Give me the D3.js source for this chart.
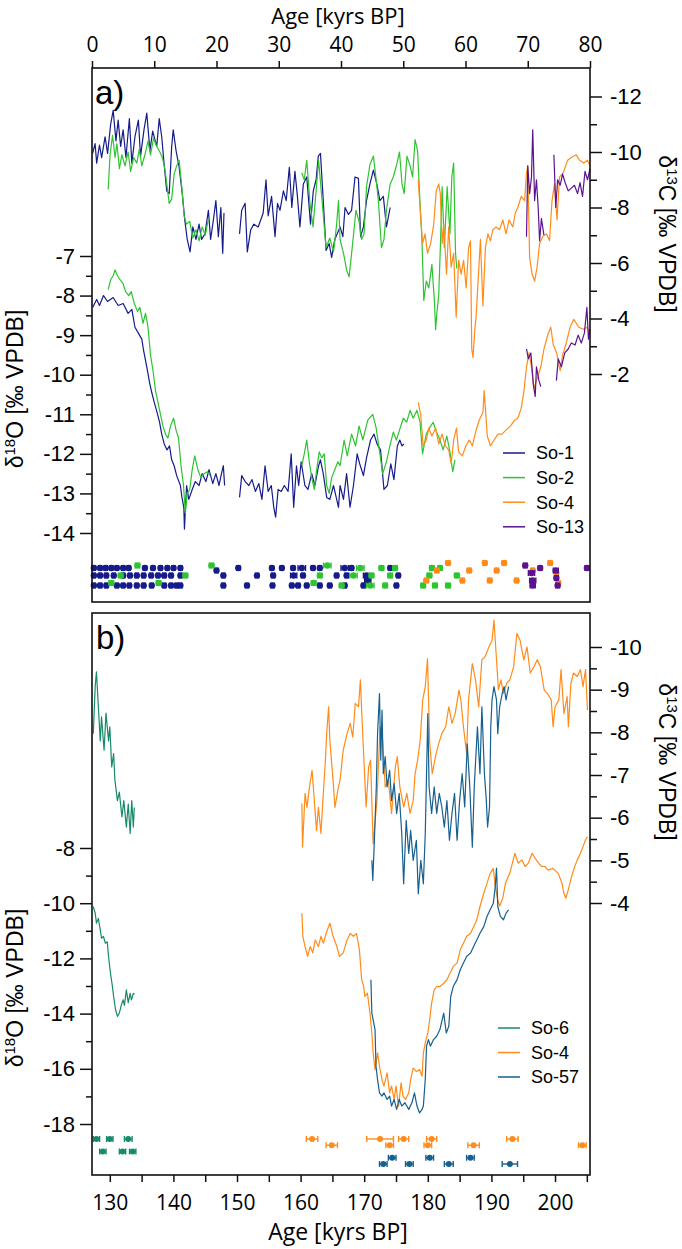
<!DOCTYPE html>
<html>
<head>
<meta charset="utf-8">
<script src="https://cdn.jsdelivr.net/npm/d3@7"></script>
<style>
body { margin: 0; background: #fff; }
</style>
</head>
<body>
<div id="chart"></div>
<script>
var width = 682, height = 1249;

// ---- ticks ----
var ageTicksA = [0, 10, 20, 30, 40, 50, 60, 70, 80];
var ageMinorA = [5, 15, 25, 35, 45, 55, 65, 75];
var o18TicksA = [-7, -8, -9, -10, -11, -12, -13, -14];
var o18MinorA = [-7.5, -8.5, -9.5, -10.5, -11.5, -12.5, -13.5];
var c13TicksA = [-12, -10, -8, -6, -4, -2];
var c13MinorA = [-11, -9, -7, -5, -3];

var ageTicksB = [130, 140, 150, 160, 170, 180, 190, 200];
var ageMinorB = [135, 145, 155, 165, 175, 185, 195, 205];
var o18TicksB = [-8, -10, -12, -14, -16, -18];
var o18MinorB = [-9, -11, -13, -15, -17];
var c13TicksB = [-10, -9, -8, -7, -6, -5, -4];
var c13MinorB = [-9.5, -8.5, -7.5, -6.5, -5.5, -4.5];

var legendA = ["So-1", "So-2", "So-4", "So-13"];
var legendB = ["So-6", "So-4", "So-57"];

// ---- panel a series [age kyr, value permil] ----
var so1C13 = [[0.1,-9.95],[0.5,-10.3],[0.75,-9.6],[1.2,-10.25],[1.55,-9.8],[2.1,-10.55],[2.5,-9.95],[3.0,-11.0],[3.4,-11.5],[3.85,-10.4],[4.2,-11.15],[4.6,-10.2],[5.0,-10.8],[5.45,-9.8],[6.0,-11.2],[6.4,-9.6],[6.9,-10.55],[7.45,-11.15],[7.8,-9.85],[8.35,-10.8],[8.8,-11.4],[9.3,-10.05],[9.75,-10.75],[10.4,-10.2],[10.8,-11.2],[11.2,-10.55],[11.55,-9.65],[12.0,-8.6],[12.4,-8.5],[12.8,-10.2],[13.05,-10.8],[13.5,-10.05],[14.0,-9.45],[14.55,-8.4],[14.9,-7.55],[15.3,-6.85],[15.75,-6.4],[16.2,-7.3],[16.7,-6.85],[17.2,-7.4],[17.6,-6.85],[18.15,-7.05],[18.7,-7.9],[19.05,-6.85],[19.5,-7.55],[19.9,-8.25],[20.3,-6.95],[20.7,-8.0],[21.0,-6.35],[21.2,-7.8],[22.5,null],[23.7,-7.05],[24.05,-7.9],[24.6,-8.15],[24.95,-6.4],[25.5,-7.2],[26.0,-7.4],[26.7,-7.3],[27.5,-7.8],[27.95,-9.0],[28.3,-7.7],[28.85,-8.4],[29.4,-6.95],[29.8,-8.15],[30.2,-7.9],[30.75,-8.6],[31.2,-8.25],[31.7,-9.45],[32.1,-8.0],[32.6,-9.3],[33.0,-8.4],[33.4,-7.3],[33.95,-8.85],[34.5,-9.1],[35.1,-7.4],[35.55,-8.6],[36.0,-9.0],[36.35,-9.85],[36.7,-9.95],[37.15,-8.25],[37.6,-6.45],[38.1,-6.7],[38.5,-6.2],[39.0,-6.85],[39.85,-7.3],[40.3,-6.95],[40.65,-8.0],[41.2,-7.75],[41.7,-7.9],[42.25,-9.1],[42.8,-9.05],[43.15,-6.95],[43.6,-7.3],[44.1,-8.25],[44.65,-8.85],[45.2,-9.35],[45.75,-8.85],[46.25,-8.25],[46.8,-8.4],[47.3,-7.3],[47.9,-8.0]];
var so2C13 = [[2.6,-8.65],[2.9,-9.9],[3.3,-10.6],[3.7,-9.8],[4.0,-10.3],[4.4,-9.4],[4.8,-9.9],[5.3,-9.5],[5.8,-10.0],[6.2,-9.3],[6.7,-9.8],[7.2,-9.6],[7.6,-10.1],[8.0,-9.5],[8.5,-9.9],[9.0,-10.4],[9.4,-9.9],[9.9,-10.5],[10.4,-10.2],[10.9,-10.0],[11.3,-9.8],[11.7,-9.4],[12.1,-8.7],[12.4,-8.15],[12.8,-8.3],[13.2,-9.2],[13.6,-9.5],[14.0,-9.7],[14.4,-8.8],[14.8,-7.7],[15.2,-7.4],[15.7,-7.5],[16.2,-6.9],[16.7,-7.2],[17.2,-6.8],[17.7,-7.3],[18.2,-7.0],[18.7,-7.6],[26,null],[33.7,-9.25],[34.1,-9.0],[34.5,-9.7],[35.0,-8.2],[35.5,-7.3],[36.0,-8.6],[36.4,-9.7],[36.9,-8.4],[37.6,-6.55],[38.2,-6.9],[38.8,-6.4],[39.3,-7.4],[39.6,-8.25],[39.85,-6.85],[40.4,-6.35],[40.9,-5.75],[41.3,-5.5],[41.8,-6.55],[42.4,-7.9],[42.9,-7.5],[43.3,-6.85],[43.7,-7.05],[44.1,-8.75],[44.65,-9.55],[45.2,-9.85],[45.6,-9.1],[46.0,-8.25],[46.5,-6.55],[46.9,-6.85],[47.3,-7.9],[47.9,-8.85],[48.4,-9.1],[48.95,-9.55],[49.4,-10.0],[49.8,-8.85],[50.15,-8.5],[50.6,-9.85],[51.1,-9.5],[51.5,-9.1],[51.9,-10.45],[52.3,-10.05],[52.7,-8.15],[53.0,-6.85],[53.3,-4.65],[53.7,-5.35],[54.1,-5.1],[54.6,-5.95],[55.0,-4.65],[55.2,-3.6],[55.4,-4.2],[55.7,-4.85],[56.0,-6.85],[56.25,-8.75],[56.6,-6.55],[57.05,-8.75],[57.5,-7.05],[57.8,-9.1],[58.1,-9.6],[58.4,-6.35],[58.6,-5.8]];
var so4aC13 = [[52.4,-9.0],[52.7,-8.0],[53.1,-6.7],[53.5,-7.05],[53.9,-6.35],[54.4,-6.7],[54.9,-7.4],[55.3,-8.6],[55.7,-8.85],[55.95,-8.5],[56.25,-6.7],[56.5,-7.4],[56.95,-5.6],[57.3,-7.3],[57.7,-5.85],[58.1,-6.35],[58.5,-4.05],[58.9,-6.1],[59.3,-5.6],[59.7,-6.1],[60.1,-5.1],[60.5,-6.55],[60.8,-6.8],[61.0,-2.9],[61.2,-2.6],[61.5,-3.6],[61.7,-4.05],[62.0,-5.25],[62.4,-6.85],[62.8,-4.45],[63.2,-6.55],[63.6,-7.05],[64.0,-6.8],[64.4,-7.2],[64.9,-7.3],[65.45,-7.2],[66.0,-7.55],[66.5,-7.05],[67.0,-7.55],[67.6,-7.3],[68.0,-7.8],[68.4,-8.0],[68.95,-8.4],[69.5,-8.25],[69.8,-9.25],[70.0,-9.5],[70.3,-6.2],[70.7,-5.6],[71.1,-5.35],[71.5,-5.85],[71.9,-6.7],[72.4,-6.95],[73.0,-7.05],[73.5,-6.8],[73.9,-8.25],[74.3,-8.85],[74.7,-7.55],[75.1,-9.1],[75.7,-9.25],[76.4,-9.7],[77.0,-9.8],[77.8,-9.9],[78.3,-9.7],[79.0,-9.6],[79.6,-9.7],[80.0,-9.5]];
var so13C13 = [[69.8,-6.95],[70.0,-9.5],[70.3,-8.5],[70.6,-9.1],[70.8,-10.8],[71.1,-8.25],[71.4,-9.0],[71.7,-7.9],[71.9,-6.8],[72.2,-7.6],[72.6,-7.0],[73.4,null],[74.2,-9.9],[74.5,-8.0],[74.8,-9.0],[75.2,-8.8],[75.6,-9.2],[76.0,-8.9],[76.5,-8.6],[77.0,-8.7],[77.5,-8.8],[78.0,-8.5],[78.4,-8.9],[78.8,-8.4],[79.2,-9.3],[79.6,-9.0],[80.0,-9.4]];

var so1O18 = [[0.1,-8.3],[0.75,-8.1],[1.2,-8.25],[1.85,-8.0],[2.5,-8.15],[3.4,-8.05],[4.2,-8.25],[5.0,-8.2],[5.8,-8.45],[6.4,-8.35],[6.9,-8.8],[7.45,-8.95],[8.0,-9.1],[8.3,-9.4],[8.8,-9.8],[9.25,-10.2],[9.6,-10.45],[10.0,-10.7],[10.45,-10.95],[10.85,-11.2],[11.2,-11.5],[11.6,-11.75],[12.05,-11.9],[12.45,-11.8],[12.8,-12.15],[13.2,-12.3],[13.6,-12.55],[14.2,-12.8],[14.45,-13.1],[14.75,-13.35],[14.85,-13.9],[15.2,-12.8],[15.55,-13.15],[16.1,-12.9],[16.6,-12.7],[17.2,-12.8],[17.7,-12.5],[18.3,-12.7],[18.8,-12.4],[19.4,-12.75],[19.9,-12.5],[20.4,-12.8],[20.8,-12.5],[21.1,-12.3],[21.3,-12.8],[22.5,null],[23.7,-13.1],[24.05,-12.55],[24.6,-12.7],[25.2,-12.8],[25.7,-12.65],[26.25,-12.95],[26.8,-12.75],[27.3,-13.15],[27.8,-12.3],[28.3,-12.95],[28.8,-12.8],[29.2,-13.35],[29.5,-13.6],[29.9,-12.9],[30.4,-12.95],[30.9,-12.8],[31.5,-12.95],[32.0,-12.0],[32.4,-13.35],[32.85,-12.3],[33.2,-12.8],[33.6,-12.2],[34.2,-12.8],[34.7,-12.9],[35.3,-12.5],[35.8,-12.8],[36.4,-12.3],[36.7,-12.15],[37.15,-12.5],[37.7,-13.1],[38.2,-13.15],[38.8,-12.8],[39.6,-13.35],[39.85,-12.8],[40.4,-13.15],[40.9,-12.5],[41.45,-13.35],[42.0,-12.8],[42.6,-12.0],[43.0,-12.25],[43.6,-12.55],[44.1,-12.1],[44.75,-11.65],[45.3,-11.5],[45.8,-11.75],[46.35,-11.9],[46.9,-12.9],[47.45,-12.8],[48.0,-12.25],[48.5,-12.65],[49.05,-11.8],[49.45,-11.65],[49.8,-11.8],[50.1,-11.75]];
var so2O18 = [[2.6,-7.85],[3.0,-7.6],[3.4,-7.5],[3.7,-7.35],[4.1,-7.5],[4.5,-7.6],[5.0,-7.7],[5.4,-7.9],[5.9,-8.0],[6.3,-7.9],[6.8,-8.2],[7.3,-8.4],[7.7,-8.3],[8.2,-8.7],[8.6,-8.45],[9.0,-8.8],[9.4,-9.5],[9.8,-9.9],[10.2,-10.4],[10.6,-10.7],[11.0,-11.0],[11.4,-11.3],[11.8,-11.5],[12.2,-11.6],[12.6,-11.3],[13.1,-11.1],[13.5,-11.4],[13.9,-11.6],[14.3,-12.3],[14.7,-12.8],[15.0,-13.5],[15.3,-13.0],[15.7,-12.9],[16.1,-12.4],[16.5,-12.05],[17.0,-12.4],[17.5,-12.6],[18.0,-12.5],[18.5,-12.45],[19.0,-12.55],[26,null],[33.7,-12.3],[34.1,-12.0],[34.5,-11.65],[34.9,-12.2],[35.3,-12.6],[35.7,-12.9],[36.1,-12.4],[36.5,-11.95],[36.9,-12.1],[37.3,-12.0],[37.7,-12.8],[38.1,-13.0],[38.5,-12.6],[39.0,-12.4],[39.5,-12.2],[39.85,-12.3],[40.5,-11.65],[41.0,-12.05],[41.7,-11.5],[42.35,-11.8],[42.9,-11.3],[43.5,-11.65],[44.3,-11.15],[45.1,-11.0],[45.65,-11.35],[46.2,-11.95],[46.7,-12.5],[47.3,-12.2],[47.85,-11.8],[48.4,-11.45],[48.9,-11.65],[49.5,-11.35],[50.0,-11.1],[50.55,-11.2],[51.1,-10.9],[51.6,-11.1],[52.2,-10.9],[52.7,-11.2],[53.1,-12.0],[53.7,-11.5],[54.2,-11.35],[54.8,-11.2],[55.35,-11.45],[55.9,-11.65],[56.4,-11.9],[57.0,-11.55],[57.5,-11.95],[57.95,-12.45],[58.3,-12.15]];
var so4aO18 = [[52.4,-10.7],[52.8,-11.0],[53.2,-11.8],[53.7,-11.65],[54.1,-11.35],[54.6,-11.55],[55.2,-11.35],[55.7,-11.75],[56.25,-11.5],[56.75,-11.8],[57.3,-11.9],[57.7,-12.25],[58.1,-11.65],[58.55,-11.35],[58.9,-11.95],[59.5,-12.05],[60.05,-11.8],[60.6,-11.65],[61.1,-11.8],[61.7,-11.4],[62.2,-11.15],[62.8,-10.95],[63.0,-10.4],[63.5,-11.55],[64.0,-11.8],[64.6,-11.65],[65.2,-11.5],[65.85,-11.5],[66.5,-11.4],[67.2,-11.3],[67.9,-11.15],[68.4,-11.1],[68.95,-10.85],[69.4,-10.4],[69.8,-9.8],[70.2,-9.45],[70.6,-9.8],[71.0,-10.35],[71.5,-10.1],[72.1,-9.8],[72.6,-9.35],[73.3,-8.95],[73.7,-8.8],[74.1,-9.25],[74.65,-9.45],[75.2,-9.9],[75.6,-9.5],[76.1,-9.25],[76.8,-8.8],[77.4,-8.6],[78.2,-8.8],[78.9,-8.85],[79.55,-8.8],[80.0,-9.0]];
var so13O18 = [[69.8,-9.35],[70.1,-9.6],[70.5,-9.45],[70.9,-10.25],[71.2,-10.55],[71.4,-9.8],[71.8,-10.15],[72.1,-10.3],[73.4,null],[74.6,-10.15],[74.9,-9.6],[75.4,-9.8],[75.95,-9.45],[76.5,-9.35],[77.0,-9.2],[77.6,-9.25],[78.1,-9.0],[78.6,-9.2],[79.1,-8.95],[79.5,-8.3],[79.75,-9.1],[80.0,-8.85]];

// ---- panel b series ----
var so6C13 = [[127.4,-7.97],[127.7,-9.07],[127.9,-9.42],[128.2,-8.6],[128.5,-7.8],[128.7,-8.36],[129.1,-7.58],[129.4,-8.45],[129.8,-7.8],[130.0,-8.13],[130.3,-7.19],[130.6,-7.5],[130.8,-6.88],[131.2,-6.4],[131.5,-6.6],[131.9,-6.02],[132.2,-6.4],[132.6,-5.78],[132.9,-6.32],[133.2,-5.63],[133.45,-6.4],[133.7,-5.78],[133.85,-6.24]];
var so6O18 = [[127.4,-10.12],[127.7,-10.36],[127.9,-10.72],[128.2,-10.55],[128.5,-10.97],[128.7,-11.27],[129.0,-11.2],[129.3,-11.45],[129.6,-11.4],[129.8,-11.93],[130.1,-12.53],[130.4,-13.0],[130.6,-13.38],[130.9,-13.86],[131.2,-14.1],[131.5,-13.98],[131.8,-13.7],[132.1,-13.5],[132.3,-13.7],[132.6,-13.14],[132.9,-13.6],[133.2,-13.27],[133.4,-13.5],[133.7,-13.27],[133.9,-13.3]];
var so4bC13 = [[160.2,-6.33],[160.3,-5.31],[160.7,-6.57],[161.0,-6.24],[161.4,-6.72],[161.8,-7.11],[162.0,-6.72],[162.3,-6.1],[162.5,-5.7],[162.8,-6.24],[163.2,-5.63],[163.5,-6.4],[163.9,-7.35],[164.1,-7.97],[164.4,-8.6],[164.6,-7.8],[165.1,-6.88],[165.4,-6.24],[165.95,-6.72],[166.2,-6.88],[166.7,-7.58],[167.3,-7.97],[167.8,-8.21],[168.2,-7.89],[168.6,-8.68],[169.1,-8.6],[169.4,-9.23],[169.6,-8.52],[170.0,-7.19],[170.3,-6.25],[170.7,-7.19],[171.0,-7.35],[171.4,-5.39],[172.0,-6.4],[172.5,-8.13],[172.9,-7.81],[173.3,-6.72],[173.8,-6.88],[174.3,-6.1],[174.9,-7.19],[175.2,-7.43],[175.6,-6.72],[176.2,-6.25],[176.7,-6.57],[177.2,-6.1],[177.7,-6.4],[178.0,-7.03],[178.4,-7.35],[178.8,-7.81],[179.2,-8.76],[179.6,-9.07],[179.95,-9.73],[180.3,-7.73],[180.7,-7.03],[181.2,-7.43],[181.7,-7.73],[182.2,-7.97],[182.8,-8.13],[183.3,-8.6],[183.8,-8.21],[184.3,-8.44],[184.9,-8.99],[185.2,-8.76],[185.6,-8.13],[186.1,-7.5],[186.4,-8.76],[187.0,-9.61],[187.5,-9.23],[188.0,-8.6],[188.5,-9.7],[189.0,-9.77],[189.6,-10.0],[190.1,-10.16],[190.4,-10.63],[190.8,-9.7],[191.1,-9.0],[191.5,-9.23],[191.9,-8.91],[192.4,-9.15],[192.9,-9.23],[193.5,-9.54],[194.0,-10.32],[194.5,-10.16],[195.1,-9.7],[195.6,-10.0],[196.1,-9.39],[196.7,-9.54],[197.2,-9.7],[197.7,-9.54],[198.3,-8.99],[198.8,-8.91],[199.4,-8.76],[199.7,-8.13],[200.0,-8.6],[200.6,-8.76],[200.95,-9.47],[201.4,-8.44],[201.9,-8.84],[202.1,-8.13],[202.5,-9.15],[202.9,-9.39],[203.5,-9.31],[204.0,-9.47],[204.4,-9.07],[204.8,-9.47],[205.1,-8.52]];
var so4bO18 = [[160.2,-10.36],[160.35,-11.2],[160.7,-11.57],[161.1,-11.93],[161.5,-11.57],[161.9,-11.8],[162.3,-11.33],[162.8,-11.57],[163.2,-11.2],[163.6,-11.45],[164.0,-11.1],[164.4,-10.85],[164.6,-10.72],[165.1,-11.2],[165.7,-11.57],[166.1,-11.93],[166.7,-11.8],[167.3,-11.33],[167.8,-11.1],[168.3,-11.2],[168.8,-11.1],[169.25,-11.7],[169.6,-12.77],[169.9,-13.0],[170.1,-13.38],[170.5,-13.26],[170.9,-13.98],[171.2,-14.7],[171.4,-15.42],[171.7,-16.03],[172.1,-15.42],[172.4,-15.9],[172.8,-16.39],[173.1,-16.63],[173.6,-16.15],[174.0,-16.87],[174.3,-16.63],[174.7,-17.11],[175.0,-16.63],[175.4,-17.35],[175.8,-16.51],[176.1,-16.99],[176.5,-17.11],[177.0,-16.87],[177.3,-16.39],[177.7,-15.97],[178.2,-16.1],[178.7,-16.03],[179.1,-16.27],[179.3,-15.42],[179.6,-15.06],[180.0,-14.7],[180.3,-14.22],[180.6,-13.62],[181.0,-13.14],[181.4,-13.02],[181.9,-13.02],[182.5,-12.9],[183.0,-12.77],[183.5,-12.53],[184.0,-12.29],[184.6,-12.17],[185.1,-11.69],[185.6,-11.45],[186.1,-11.2],[186.7,-11.1],[187.2,-10.85],[187.7,-10.6],[188.2,-10.12],[188.8,-9.64],[189.3,-9.28],[189.8,-8.92],[190.3,-8.74],[190.6,-9.4],[191.0,-9.88],[191.3,-10.1],[191.8,-9.8],[192.2,-9.28],[192.9,-8.9],[193.3,-8.55],[193.7,-8.19],[194.2,-8.55],[194.8,-8.43],[195.3,-8.67],[195.8,-8.55],[196.4,-8.19],[196.7,-8.31],[197.4,-8.55],[197.9,-8.67],[198.4,-8.67],[198.9,-8.8],[199.7,-8.74],[200.5,-8.92],[201.1,-9.28],[201.4,-9.64],[201.7,-9.82],[202.1,-9.5],[202.6,-9.04],[203.1,-8.67],[203.5,-8.43],[204.0,-8.19],[204.4,-7.95],[204.8,-7.7],[205.1,-7.59]];
var so57C13 = [[171.2,-5.0],[171.35,-4.53],[171.6,-5.47],[171.9,-6.72],[172.1,-7.97],[172.4,-8.91],[172.6,-7.35],[172.8,-8.52],[173.0,-7.03],[173.3,-7.43],[173.6,-6.72],[174.0,-7.11],[174.3,-6.4],[174.7,-6.8],[175.1,-6.1],[175.5,-6.57],[175.9,-5.63],[176.2,-4.45],[176.6,-5.94],[177.0,-5.16],[177.3,-5.7],[177.7,-5.0],[178.2,-5.47],[178.5,-4.22],[178.9,-5.0],[179.3,-4.45],[179.6,-5.63],[179.8,-7.03],[180.0,-8.44],[180.2,-6.72],[180.6,-6.1],[181.0,-6.72],[181.4,-6.1],[181.8,-6.57],[182.2,-6.25],[182.6,-5.78],[183.0,-6.4],[183.4,-5.47],[183.8,-6.1],[184.2,-6.57],[184.6,-5.47],[185.0,-6.4],[185.4,-7.03],[185.8,-6.25],[186.2,-7.73],[186.6,-6.72],[187.0,-5.31],[187.3,-6.72],[187.8,-8.13],[188.2,-7.03],[188.5,-8.6],[188.9,-7.03],[189.2,-6.4],[189.4,-5.78],[189.7,-6.25],[189.9,-8.13],[190.1,-8.76],[190.4,-9.07],[190.8,-8.76],[191.0,-7.97],[191.3,-8.6],[191.7,-8.91],[192.0,-9.07],[192.3,-8.76],[192.7,-9.07]];
var so57O18 = [[171.05,-12.77],[171.2,-13.98],[171.4,-14.22],[171.7,-14.58],[171.85,-15.9],[172.1,-16.39],[172.4,-16.87],[172.8,-16.99],[173.1,-16.87],[173.6,-17.11],[174.0,-16.99],[174.3,-17.35],[174.7,-17.11],[175.1,-17.47],[175.5,-17.11],[175.9,-17.35],[176.4,-17.23],[177.0,-17.47],[177.5,-17.23],[177.9,-16.87],[178.3,-17.35],[178.7,-17.6],[179.1,-17.47],[179.3,-17.35],[179.6,-16.39],[179.8,-15.18],[180.1,-14.94],[180.4,-15.18],[180.9,-14.94],[181.4,-14.82],[181.9,-14.58],[182.5,-13.98],[182.9,-14.7],[183.3,-14.46],[183.6,-13.38],[184.0,-13.02],[184.6,-12.77],[185.1,-12.41],[185.6,-12.17],[186.1,-11.93],[186.7,-11.81],[187.2,-11.57],[187.7,-11.33],[188.2,-11.09],[188.8,-10.85],[189.3,-10.48],[189.8,-10.24],[190.3,-10.0],[190.6,-9.4],[190.8,-8.73],[191.0,-10.12],[191.4,-10.48],[191.9,-10.6],[192.3,-10.36],[192.7,-10.24]];

// ---- U-Th dates [age, row, error] ----
var datesSo1 = [[0.3,2],[1.3,2],[2.2,2],[3.1,2],[4.0,2],[5.0,2],[5.9,2],[8.5,2],[9.8,2],[11.0,2],[12.1,2],[13.1,2],[14.2,2],[20.0,3],[23.5,2],[28.9,2],[30.5,2],[32.3,2],[33.7,2,0.6],[35.5,2],[36.6,2],[40.6,2,0.6],[41.7,2],[47.9,2],
  [0.3,5],[1.3,5],[2.3,5],[3.5,5],[5.0,5],[6.1,5],[7.2,5],[8.3,5],[9.5,5],[10.6,5],[11.6,5],[12.7,5],[14.2,5],[21.1,5],[26.5,5],[29.1,5],[32.4,5,0.5],[33.9,5],[39.3,5],[40.9,5],[44.1,5,0.5],[49.2,5],
  [0.3,9],[1.3,9],[2.3,9],[4.0,9],[5.0,9],[6.0,9],[7.2,9],[8.3,9],[9.6,9],[11.6,9],[12.7,9],[13.6,9],[14.2,9],[21.1,9],[24.9,9],[29.0,9],[32.1,9],[33.1,9],[34.5,9],[36.6,9],[38.2,9],[40.6,9],[43.6,9],[48.9,9],[44.3,7,0.5]];
var datesSo2 = [[3.1,8],[4.6,5],[7.3,1],[10.7,8],[15.0,5],[19.2,1],[35.6,8],[36.6,5],[37.8,1,0.6],[40.1,9],[42.0,5,0.6],[43.1,2,0.6],[44.7,9,0.6],[44.9,5],[46.5,2],[47.1,9],[47.9,5],[48.7,2],[53.2,9],[54.2,5],[54.6,2],[55.1,9],[55.9,2],[57.2,9],[58.6,5]];
var datesSo4a = [[57.2,0],[55.4,3],[53.7,7],[60.6,3],[59.5,7],[63.1,0],[65.0,3],[66.2,0],[63.9,7],[68.2,7],[70.8,3],[73.6,0],[74.6,4],[74.9,8]];
var datesSo13 = [[69.6,1],[70.6,4,0.5],[70.8,7,0.5],[70.8,9,0.4],[72.0,2],[74.5,3,0.4],[74.6,6],[74.8,9],[79.5,2]];

var datesSo6 = [[127.9,0,0.5],[130.0,0,0.5],[132.9,0,0.6],[128.9,2,0.5],[132.0,2,0.5],[133.6,2,0.5]];
var datesSo4b = [[161.8,0,0.9],[164.9,1,0.9],[172.5,0,2.1],[174.0,1,0.6],[176.2,0,0.8],[180.0,1,0.6],[180.6,0,0.8],[187.2,1,0.9],[193.3,0,0.9],[204.3,1,0.6]];
var datesSo57 = [[174.4,3,0.6],[173.0,4,0.6],[177.1,4,0.6],[180.3,3,0.6],[183.3,4,0.7],[186.7,3,0.6],[192.9,4,1.2]];

var colors = {
  "So-1": "#161b8c", "So-2": "#2ec430", "So-4": "#ff8c1a", "So-13": "#5a128f",
  "So-6": "#178a6c", "So-57": "#15608f"
};
var tickFont = "'Liberation Sans', Arial, sans-serif";
var ageFont = "'Open Sans', 'Segoe UI', sans-serif";

window.onload = start;

function start() {
  var svg = d3.select("#chart").append("svg")
    .attr("width", width).attr("height", height)
    .style("display", "block");

  // scales
  var xA = d3.scaleLinear().domain([0, 80]).range([92, 590]);
  var yA18 = d3.scaleLinear().domain([-7, -14]).range([256, 533]);
  var yA13 = d3.scaleLinear().domain([-10, -2]).range([152, 374]);
  var rowA = d3.scaleLinear().domain([0, 9]).range([563, 585.5]);

  var xB = d3.scaleLinear().domain([127.2, 205.5]).range([92, 590]);
  var yB18 = d3.scaleLinear().domain([-8, -18]).range([848, 1124]);
  var yB13 = d3.scaleLinear().domain([-10, -4]).range([647, 903]);
  var rowB = d3.scaleLinear().domain([0, 4]).range([1139, 1164]);

  // ---------- panel a ----------
  drawSeries(svg, so1C13, xA, yA13, colors["So-1"]);
  drawSeries(svg, so2C13, xA, yA13, colors["So-2"]);
  drawSeries(svg, so4aC13, xA, yA13, colors["So-4"]);
  drawSeries(svg, so13C13, xA, yA13, colors["So-13"]);
  drawSeries(svg, so1O18, xA, yA18, colors["So-1"]);
  drawSeries(svg, so2O18, xA, yA18, colors["So-2"]);
  drawSeries(svg, so4aO18, xA, yA18, colors["So-4"]);
  drawSeries(svg, so13O18, xA, yA18, colors["So-13"]);

  drawDates(svg, datesSo1, xA, rowA, colors["So-1"], 0.25, 3.2);
  drawDates(svg, datesSo2, xA, rowA, colors["So-2"], 0.35, 3.2);
  drawDates(svg, datesSo4a, xA, rowA, colors["So-4"], 0.3, 3.2);
  drawDates(svg, datesSo13, xA, rowA, colors["So-13"], 0.3, 3.2);

  svg.append("rect").attr("x", 92).attr("y", 68).attr("width", 498).attr("height", 534)
    .attr("fill", "none").attr("stroke", "#111").attr("stroke-width", 1.6);

  // top age axis
  var gTop = svg.append("g").attr("transform", "translate(0,68)");
  gTop.call(d3.axisTop(xA).tickValues(ageMinorA).tickSize(4).tickFormat(""));
  gTop.call(d3.axisTop(xA).tickValues(ageTicksA).tickSize(7).tickPadding(9).tickFormat(d => String(d)));
  styleAxis(gTop, ageFont, 21);

  var gLa = svg.append("g").attr("transform", "translate(92,0)");
  gLa.append("g").call(d3.axisLeft(yA18).tickValues(o18MinorA).tickSize(6).tickFormat(""));
  gLa.append("g").call(d3.axisLeft(yA18).tickValues(o18TicksA).tickSize(12).tickPadding(5).tickFormat(d => String(d)));
  styleAxis(gLa, tickFont, 22);

  var gRa = svg.append("g").attr("transform", "translate(590,0)");
  gRa.append("g").call(d3.axisRight(yA13).tickValues(c13MinorA).tickSize(7).tickFormat(""));
  gRa.append("g").call(d3.axisRight(yA13).tickValues(c13TicksA).tickSize(12).tickPadding(8).tickFormat(d => String(d)));
  styleAxis(gRa, tickFont, 22);

  svg.append("text").attr("x", 338).attr("y", 24).attr("text-anchor", "middle")
    .style("font-family", ageFont).style("font-size", "22px").text("Age [kyrs BP]");
  svg.append("text").attr("x", 95).attr("y", 104)
    .style("font-family", tickFont).style("font-size", "33px").text("a)");

  isoTitle(svg, 23, 389, -90, "18", "O");
  isoTitle(svg, 659, 234, 90, "13", "C");
  drawLegend(svg, legendA, 503, 453, 24.6);

  // ---------- panel b ----------
  drawSeries(svg, so6C13, xB, yB13, colors["So-6"]);
  drawSeries(svg, so4bC13, xB, yB13, colors["So-4"]);
  drawSeries(svg, so57C13, xB, yB13, colors["So-57"]);
  drawSeries(svg, so6O18, xB, yB18, colors["So-6"]);
  drawSeries(svg, so4bO18, xB, yB18, colors["So-4"]);
  drawSeries(svg, so57O18, xB, yB18, colors["So-57"]);

  drawDates(svg, datesSo6, xB, rowB, colors["So-6"], 0.5, 3);
  drawDates(svg, datesSo4b, xB, rowB, colors["So-4"], 0.8, 3);
  drawDates(svg, datesSo57, xB, rowB, colors["So-57"], 0.6, 3);

  svg.append("rect").attr("x", 92).attr("y", 613).attr("width", 498).attr("height", 562)
    .attr("fill", "none").attr("stroke", "#111").attr("stroke-width", 1.6);

  var gBot = svg.append("g").attr("transform", "translate(0,1175)");
  gBot.append("g").call(d3.axisBottom(xB).tickValues(ageMinorB).tickSize(7).tickFormat(""));
  gBot.append("g").call(d3.axisBottom(xB).tickValues(ageTicksB).tickSize(7).tickPadding(13).tickFormat(d => String(d)));
  styleAxis(gBot, ageFont, 21);

  var gLb = svg.append("g").attr("transform", "translate(92,0)");
  gLb.append("g").call(d3.axisLeft(yB18).tickValues(o18MinorB).tickSize(6).tickFormat(""));
  gLb.append("g").call(d3.axisLeft(yB18).tickValues(o18TicksB).tickSize(12).tickPadding(5).tickFormat(d => String(d)));
  styleAxis(gLb, tickFont, 22);

  var gRb = svg.append("g").attr("transform", "translate(590,0)");
  gRb.append("g").call(d3.axisRight(yB13).tickValues(c13MinorB).tickSize(7).tickFormat(""));
  gRb.append("g").call(d3.axisRight(yB13).tickValues(c13TicksB).tickSize(12).tickPadding(8).tickFormat(d => String(d)));
  styleAxis(gRb, tickFont, 22);

  svg.append("text").attr("x", 338).attr("y", 1240).attr("text-anchor", "middle")
    .style("font-family", ageFont).style("font-size", "23px").text("Age [kyrs BP]");
  svg.append("text").attr("x", 96).attr("y", 649)
    .style("font-family", tickFont).style("font-size", "33px").text("b)");

  isoTitle(svg, 23, 988, -90, "18", "O");
  isoTitle(svg, 659, 762, 90, "13", "C");
  drawLegend(svg, legendB, 498, 1028, 24.5);
}

function drawSeries(g, data, x, y, color) {
  var line = d3.line()
    .defined(d => d[1] !== null)
    .x(d => x(d[0]))
    .y(d => y(d[1]));
  g.append("path").datum(data)
    .attr("d", line)
    .attr("fill", "none")
    .attr("stroke", color)
    .attr("stroke-width", 1.2)
    .attr("stroke-linejoin", "round");
}

// dates drawn as dot with horizontal error bar
function drawDates(g, data, x, row, color, defErr, r) {
  var grp = g.append("g");
  var sel = grp.selectAll("g").data(data).enter().append("g");
  sel.append("line")
    .attr("x1", d => x(d[0] - (d[2] || defErr)))
    .attr("x2", d => x(d[0] + (d[2] || defErr)))
    .attr("y1", d => row(d[1])).attr("y2", d => row(d[1]))
    .attr("stroke", color).attr("stroke-width", 1.4);
  sel.append("line")
    .attr("x1", d => x(d[0] - (d[2] || defErr)))
    .attr("x2", d => x(d[0] - (d[2] || defErr)))
    .attr("y1", d => row(d[1]) - 3).attr("y2", d => row(d[1]) + 3)
    .attr("stroke", color).attr("stroke-width", 1.4);
  sel.append("line")
    .attr("x1", d => x(d[0] + (d[2] || defErr)))
    .attr("x2", d => x(d[0] + (d[2] || defErr)))
    .attr("y1", d => row(d[1]) - 3).attr("y2", d => row(d[1]) + 3)
    .attr("stroke", color).attr("stroke-width", 1.4);
  sel.append("circle")
    .attr("cx", d => x(d[0])).attr("cy", d => row(d[1]))
    .attr("r", r).attr("fill", color);
}

function styleAxis(g, font, size) {
  g.selectAll(".domain").remove();
  g.selectAll(".tick line").attr("stroke", "#111").attr("stroke-width", 1.5);
  g.selectAll(".tick text").attr("fill", "#000")
    .style("font-family", font).style("font-size", size + "px");
}

function isoTitle(g, x, y, rot, sup, el) {
  var t = g.append("text")
    .attr("transform", "translate(" + x + "," + y + ") rotate(" + rot + ")")
    .attr("text-anchor", "middle")
    .style("font-family", tickFont).style("font-size", "23px").attr("fill", "#000");
  t.append("tspan").text("δ");
  t.append("tspan").attr("dy", -8).style("font-size", "15px").text(sup);
  t.append("tspan").attr("dy", 8).text(el + " [‰ VPDB]");
}

function drawLegend(g, names, x0, y0, step) {
  var items = g.append("g").selectAll("g").data(names).enter().append("g")
    .attr("transform", (d, i) => "translate(" + x0 + "," + (y0 + i * step) + ")");
  items.append("line").attr("x1", 0).attr("x2", 22).attr("y1", 0).attr("y2", 0)
    .attr("stroke", d => colors[d]).attr("stroke-width", 1.5);
  items.append("text").attr("x", 33).attr("dy", "0.35em")
    .style("font-family", tickFont).style("font-size", "18px").text(d => d);
}
</script>
</body>
</html>
